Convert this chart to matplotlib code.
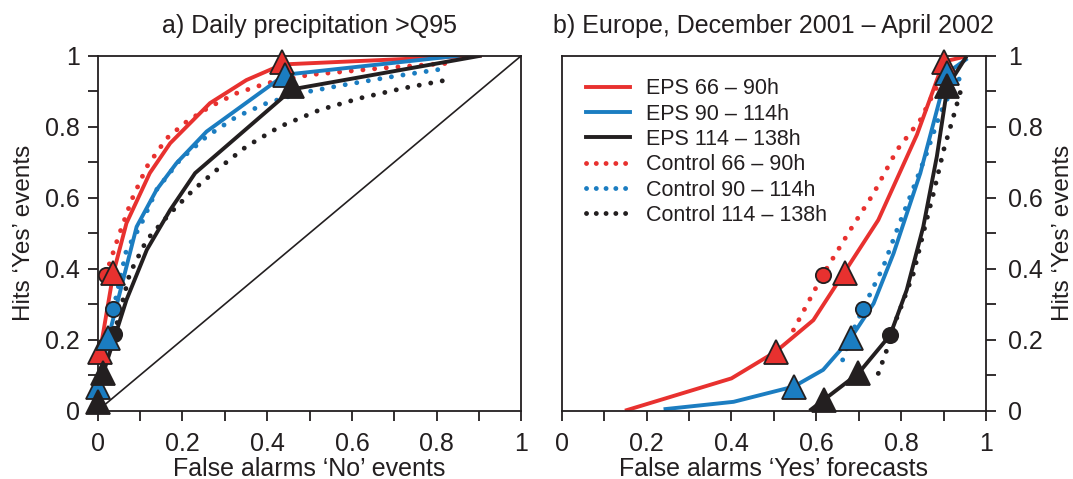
import matplotlib
matplotlib.use("Agg")
import matplotlib.pyplot as plt
from matplotlib.lines import Line2D

plt.rcParams['font.family'] = ['Liberation Sans', 'DejaVu Sans']

RED = '#e8312f'
BLUE = '#1b7dc1'
BLACK = '#231f20'

# ---- panel a) hit rate vs false alarm rate ----
a_eps66_x = [0.0055, 0.037, 0.068, 0.123, 0.171, 0.265, 0.351, 0.436, 0.906]
a_eps66_y = [0.166, 0.387, 0.528, 0.669, 0.753, 0.866, 0.931, 0.975, 1.0]
a_eps90_x = [0.0015, 0.025, 0.092, 0.139, 0.186, 0.257, 0.442, 0.855]
a_eps90_y = [0.068, 0.204, 0.518, 0.622, 0.697, 0.786, 0.946, 1.0]
a_eps114_x = [0.0015, 0.013, 0.068, 0.116, 0.171, 0.230, 0.459, 0.906]
a_eps114_y = [0.025, 0.105, 0.312, 0.453, 0.565, 0.669, 0.905, 1.0]
a_ctl66_x = [0.019, 0.049, 0.080, 0.116, 0.163, 0.21, 0.265, 0.328, 0.399, 0.5, 0.674, 0.823]
a_ctl66_y = [0.382, 0.49, 0.593, 0.687, 0.767, 0.814, 0.856, 0.894, 0.922, 0.946, 0.965, 0.978]
a_ctl90_x = [0.037, 0.068, 0.1, 0.139, 0.194, 0.257, 0.328, 0.399, 0.477, 0.579, 0.697, 0.823]
a_ctl90_y = [0.285, 0.453, 0.518, 0.622, 0.706, 0.772, 0.828, 0.866, 0.894, 0.917, 0.941, 0.964]
a_ctl114_x = [0.039, 0.076, 0.116, 0.171, 0.226, 0.281, 0.351, 0.43, 0.524, 0.619, 0.721, 0.823]
a_ctl114_y = [0.216, 0.387, 0.481, 0.556, 0.622, 0.678, 0.744, 0.8, 0.847, 0.88, 0.908, 0.931]
a_tri66 = ([0.0055, 0.037, 0.436], [0.166, 0.387, 0.983])
a_tri90 = ([0.0015, 0.025, 0.442], [0.068, 0.204, 0.946])
a_tri114 = ([0.0015, 0.013, 0.459], [0.025, 0.105, 0.913])
a_circ = ([0.019, 0.037, 0.039], [0.382, 0.285, 0.216])

# ---- panel b) hit rate vs false alarm ratio ----
b_eps66_x = [0.149, 0.4, 0.504, 0.593, 0.746, 0.837, 0.9, 0.954]
b_eps66_y = [0.0, 0.091, 0.166, 0.255, 0.537, 0.777, 0.983, 0.998]
b_eps90_x = [0.24, 0.405, 0.547, 0.616, 0.681, 0.735, 0.782, 0.845, 0.907, 0.956]
b_eps90_y = [0.004, 0.025, 0.068, 0.115, 0.204, 0.302, 0.443, 0.669, 0.95, 0.992]
b_eps114_x = [0.584, 0.617, 0.699, 0.774, 0.813, 0.852, 0.884, 0.909, 0.954]
b_eps114_y = [0.0, 0.03, 0.105, 0.213, 0.34, 0.518, 0.716, 0.913, 0.998]
b_ctl66_x = [0.546, 0.615, 0.68, 0.735, 0.79, 0.845, 0.892, 0.931]
b_ctl66_y = [0.227, 0.382, 0.509, 0.612, 0.734, 0.819, 0.931, 0.978]
b_ctl90_x = [0.662, 0.687, 0.709, 0.758, 0.79, 0.821, 0.86, 0.892, 0.923, 0.947]
b_ctl90_y = [0.143, 0.227, 0.285, 0.406, 0.509, 0.603, 0.725, 0.838, 0.913, 0.95]
b_ctl114_x = [0.746, 0.766, 0.774, 0.797, 0.829, 0.852, 0.876, 0.9, 0.923, 0.943]
b_ctl114_y = [0.105, 0.171, 0.213, 0.284, 0.387, 0.5, 0.612, 0.734, 0.828, 0.913]
b_tri66 = ([0.504, 0.668, 0.9], [0.166, 0.387, 0.983])
b_tri90 = ([0.547, 0.681, 0.907], [0.068, 0.204, 0.95])
b_tri114 = ([0.617, 0.699, 0.909], [0.03, 0.105, 0.913])
b_circ = ([0.615, 0.709, 0.774], [0.382, 0.285, 0.213])

labels = ['EPS 66 – 90h', 'EPS 90 – 114h', 'EPS 114 – 138h',
          'Control 66 – 90h', 'Control 90 – 114h', 'Control 114 – 138h']
colors = [RED, BLUE, BLACK]
ticks = [0, 0.2, 0.4, 0.6, 0.8, 1]
ticklabels = ['0', '0.2', '0.4', '0.6', '0.8', '1']

fig = plt.figure(figsize=(10.73, 4.79), dpi=100)
ax1 = fig.add_axes([0.091, 0.1426, 0.395, 0.7414])
ax2 = fig.add_axes([0.5235, 0.1426, 0.3955, 0.7414])

dot = (0, (0.01, 2.4))
lw = 2.8
fs = 18


def draw(ax, eps, ctl, tris, circ):
    for (x, y), c in zip(eps, colors):
        ax.plot(x, y, color=c, lw=lw, solid_capstyle='butt', zorder=3)
    for (x, y), c in zip(ctl, colors):
        ax.plot(x, y, color=c, lw=3.5, linestyle=dot, dash_capstyle='round', zorder=2)
    for (x, y), c in zip(tris, colors):
        ax.plot(x, y, '^', ms=17, mfc=c, mec=BLACK, mew=1.3, ls='none',
                zorder=7, clip_on=False)
    for x, y, c in zip(circ[0], circ[1], colors):
        ax.plot(x, y, 'o', ms=11, mfc=c, mec=BLACK, mew=1.3, ls='none',
                zorder=6.5, clip_on=False)


draw(ax1,
     [(a_eps66_x, a_eps66_y), (a_eps90_x, a_eps90_y), (a_eps114_x, a_eps114_y)],
     [(a_ctl66_x, a_ctl66_y), (a_ctl90_x, a_ctl90_y), (a_ctl114_x, a_ctl114_y)],
     [a_tri66, a_tri90, a_tri114], a_circ)
ax1.plot([0, 1], [0, 1], color=BLACK, lw=1.2, zorder=1)

draw(ax2,
     [(b_eps66_x, b_eps66_y), (b_eps90_x, b_eps90_y), (b_eps114_x, b_eps114_y)],
     [(b_ctl66_x, b_ctl66_y), (b_ctl90_x, b_ctl90_y), (b_ctl114_x, b_ctl114_y)],
     [b_tri66, b_tri90, b_tri114], b_circ)

for ax in (ax1, ax2):
    ax.set_xlim(0, 1)
    ax.set_ylim(0, 1)
    ax.set_xticks(ticks)
    ax.set_xticklabels(ticklabels)
    ax.set_yticks(ticks)
    ax.set_yticklabels(ticklabels)
    ax.set_xticks([0.1, 0.3, 0.5, 0.7, 0.9], minor=True)
    ax.set_yticks([0.1, 0.3, 0.5, 0.7, 0.9], minor=True)
    ax.tick_params(which='both', direction='out', length=7, width=1.3,
                   color=BLACK, labelsize=fs, labelcolor=BLACK, pad=6)
    ax.tick_params(axis='x', which='both', pad=8)
    for s in ax.spines.values():
        s.set_linewidth(1.3)
        s.set_color(BLACK)
        s.set_zorder(6)

ax1.tick_params(which='both', left=True, right=False, top=False, bottom=True)
ax2.tick_params(which='both', left=False, right=True, top=False, bottom=True,
                labelleft=False, labelright=True)
ax2.tick_params(axis='y', which='both', pad=9)

ax1.set_title('a) Daily precipitation >Q95', fontsize=fs, color=BLACK, pad=16)
ax2.set_title('b) Europe, December 2001 – April 2002', fontsize=fs, color=BLACK, pad=16)
ax1.set_xlabel('False alarms ‘No’ events', fontsize=fs, color=BLACK, labelpad=1)
ax2.set_xlabel('False alarms ‘Yes’ forecasts', fontsize=fs, color=BLACK, labelpad=1)
ax1.set_ylabel('Hits ‘Yes’ events', fontsize=17.5, color=BLACK, labelpad=7)
ax2.yaxis.set_label_position('right')
ax2.set_ylabel('Hits ‘Yes’ events', fontsize=17.5, color=BLACK, rotation=90, labelpad=6)

handles = [Line2D([], [], color=c, lw=lw) for c in colors] + \
          [Line2D([], [], color=c, lw=3.5, linestyle=(0, (0.01, 2.0)), dash_capstyle='round')
           for c in colors]
ax2.legend(handles, labels, loc='upper left', bbox_to_anchor=(0.038, 0.96),
           frameon=False, fontsize=15.5, handlelength=2.0, handletextpad=0.75,
           labelspacing=0.2, borderaxespad=0, labelcolor=BLACK)

fig.savefig('out.png', dpi=100)
